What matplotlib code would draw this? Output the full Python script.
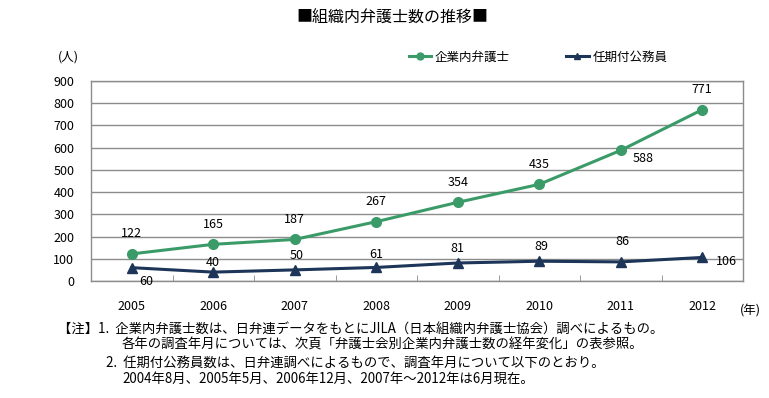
import matplotlib
matplotlib.use("Agg")
import matplotlib.pyplot as plt
from matplotlib.lines import Line2D

plt.rcParams['font.family'] = ['Noto Sans CJK JP', 'DejaVu Sans']

years = ['2005', '2006', '2007', '2008', '2009', '2010', '2011', '2012']
inhouse = [122, 165, 187, 267, 354, 435, 588, 771]
public = [60, 40, 50, 61, 81, 89, 86, 106]
yticks = [0, 100, 200, 300, 400, 500, 600, 700, 800, 900]

green = '#3B9B68'
navy = '#1C3558'

W, H = 769, 398
fig = plt.figure(figsize=(W / 100, H / 100), dpi=100)
ax = fig.add_axes([91 / W, 1 - 281 / H, (743 - 91) / W, (281 - 81) / H])

x = list(range(len(years)))
ax.plot(x, inhouse, color=green, lw=2.2, marker='o', ms=7, zorder=3)
ax.plot(x, public, color=navy, lw=2.2, marker='^', ms=7, zorder=3)

ax.set_xlim(-0.5, len(years) - 0.5)
ax.set_ylim(0, 900)
ax.set_yticks(yticks)
ax.set_yticklabels([str(v) for v in yticks], fontsize=9)
ax.yaxis.grid(True, color='#8C8C8C', lw=1)
ax.set_axisbelow(True)
ax.tick_params(axis='y', length=0, pad=12)
ax.set_xticks(x)
ax.set_xticklabels(years, fontsize=9)
ax.tick_params(axis='x', length=0, pad=14)
ax.set_xticks([i + 0.5 for i in range(len(years) - 1)], minor=True)
ax.tick_params(axis='x', which='minor', direction='in', length=4, color='#8C8C8C')
for s in ax.spines.values():
    s.set_color('#8C8C8C')
    s.set_linewidth(1)

# data labels (offsets in pixels)
g_off = [(0, 20), (0, 20), (0, 20), (0, 20), (0, 20), (0, 20), (22, -8), (0, 20)]
n_off = [(14, -14), (0, 10), (2, 14), (0, 13), (0, 15), (2, 15), (2, 20), (24, -4)]
for i, v in enumerate(inhouse):
    ax.annotate(str(v), (i, v), xytext=g_off[i], textcoords='offset pixels',
                ha='center', va='center', fontsize=9)
for i, v in enumerate(public):
    ax.annotate(str(v), (i, v), xytext=n_off[i], textcoords='offset pixels',
                ha='center', va='center', fontsize=9)

fig.text(392 / W, 1 - 18 / H, '■組織内弁護士数の推移■', ha='center', va='center', fontsize=11.5)
fig.text(68 / W, 1 - 57 / H, '(人)', ha='center', va='center', fontsize=9)
fig.text(750 / W, 1 - 311 / H, '(年)', ha='center', va='center', fontsize=9)

handles = [Line2D([], [], color=green, lw=2.2, marker='o', ms=5),
           Line2D([], [], color=navy, lw=2.2, marker='^', ms=5)]
fig.legend(handles, ['企業内弁護士', '任期付公務員'], loc='center', bbox_to_anchor=(538 / W, 1 - 57 / H),
           ncol=2, frameon=False, fontsize=9, handlelength=1.8, handletextpad=0.3, columnspacing=4.5)

notes = [
    (58, 330, '【注】1.  企業内弁護士数は、日弁連データをもとにJILA（日本組織内弁護士協会）調べによるもの。'),
    (122, 345, '各年の調査年月については、次頁「弁護士会別企業内弁護士数の経年変化」の表参照。'),
    (106, 363, '2.  任期付公務員数は、日弁連調べによるもので、調査年月について以下のとおり。'),
    (122, 379, '2004年8月、2005年5月、2006年12月、2007年～2012年は6月現在。'),
]
for nx, ny, t in notes:
    fig.text(nx / W, 1 - ny / H, t, ha='left', va='center', fontsize=9.6)

fig.savefig('out.png', dpi=100)
